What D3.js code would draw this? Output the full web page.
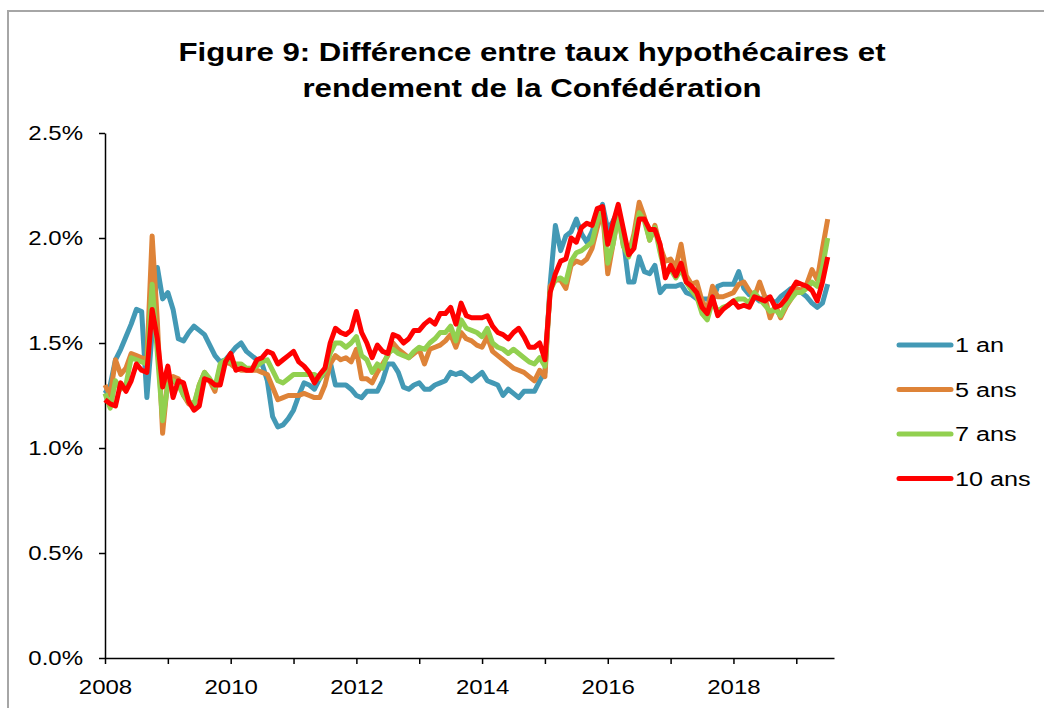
<!DOCTYPE html>
<html><head><meta charset="utf-8">
<script src="https://cdn.jsdelivr.net/npm/d3@7"></script>
<style>
body{margin:0;background:#fff}
svg{display:block}
text{font-family:"Liberation Sans",Arial,sans-serif;fill:#000}
</style>
</head><body>
<svg id="chart" width="1044" height="708"></svg>
<script>
// ---------- data ----------
const titleLines = ["Figure 9: Différence entre taux hypothécaires et", "rendement de la Confédération"];
const seriesNames = ["1 an", "5 ans", "7 ans", "10 ans"];
const seriesColors = ["#4399B5", "#DE8338", "#92D050", "#FF0000"];
const yTickValues = [0, 0.5, 1.0, 1.5, 2.0, 2.5];
const xTickYears = [2008, 2009, 2010, 2011, 2012, 2013, 2014, 2015, 2016, 2017, 2018, 2019];
const xLabelYears = [2008, 2010, 2012, 2014, 2016, 2018];
const firstYear = 2008; // monthly data, January 2008 to July 2019

const oneYear = [1.26,1.30,1.42,1.47,1.53,1.59,1.66,1.65,1.24,1.55,1.86,1.71,
1.74,1.66,1.52,1.51,1.55,1.58,1.56,1.54,1.49,1.44,1.41,1.42,
1.45,1.48,1.50,1.46,1.44,1.42,1.40,1.32,1.15,1.10,1.11,1.14,
1.18,1.25,1.31,1.30,1.28,1.33,1.36,1.41,1.30,1.30,1.30,1.28,
1.25,1.24,1.27,1.27,1.27,1.32,1.40,1.40,1.36,1.29,1.28,1.30,
1.31,1.28,1.28,1.30,1.31,1.32,1.36,1.35,1.36,1.34,1.32,1.34,
1.36,1.32,1.31,1.30,1.25,1.28,1.26,1.24,1.27,1.27,1.27,1.32,
1.36,1.78,2.06,1.94,2.01,2.03,2.09,2.02,1.98,2.03,2.10,2.16,
2.04,2.08,2.13,1.99,1.79,1.79,1.91,1.84,1.83,1.87,1.74,1.77,
1.77,1.77,1.78,1.74,1.73,1.71,1.71,1.71,1.70,1.77,1.78,1.78,
1.78,1.84,1.76,1.73,1.72,1.70,1.72,1.71,1.69,1.72,1.74,1.76,
1.75,1.74,1.72,1.69,1.67,1.69,1.78];

const fiveYears = [1.30,1.25,1.42,1.35,1.38,1.45,1.44,1.43,1.42,2.01,1.60,1.07,
1.33,1.34,1.33,1.25,1.21,1.20,1.30,1.36,1.32,1.27,1.39,1.41,
1.40,1.38,1.37,1.37,1.37,1.37,1.36,1.35,1.29,1.23,1.24,1.25,
1.25,1.25,1.26,1.25,1.24,1.24,1.30,1.40,1.44,1.42,1.43,1.41,
1.47,1.33,1.33,1.31,1.36,1.40,1.44,1.50,1.47,1.45,1.43,1.45,
1.47,1.40,1.47,1.48,1.49,1.51,1.54,1.48,1.55,1.52,1.51,1.49,
1.48,1.53,1.46,1.44,1.42,1.40,1.38,1.37,1.36,1.34,1.32,1.37,
1.34,1.77,1.80,1.80,1.76,1.87,1.89,1.88,1.90,1.95,2.05,2.13,
1.83,1.97,2.11,1.96,1.92,2.02,2.17,2.10,1.99,2.06,1.96,1.89,
1.90,1.86,1.97,1.82,1.78,1.79,1.70,1.66,1.77,1.72,1.72,1.73,
1.74,1.78,1.79,1.75,1.72,1.79,1.72,1.62,1.68,1.62,1.67,1.71,
1.76,1.75,1.78,1.85,1.80,1.95,2.09];

const sevenYears = [1.26,1.19,1.32,1.28,1.30,1.43,1.42,1.41,1.40,1.78,1.45,1.13,
1.30,1.32,1.30,1.25,1.22,1.21,1.30,1.36,1.33,1.29,1.40,1.42,
1.41,1.40,1.40,1.38,1.38,1.39,1.41,1.42,1.37,1.32,1.31,1.33,
1.35,1.35,1.35,1.35,1.35,1.33,1.37,1.45,1.50,1.50,1.48,1.50,
1.53,1.44,1.42,1.36,1.40,1.38,1.45,1.47,1.45,1.44,1.43,1.46,
1.48,1.47,1.50,1.52,1.55,1.55,1.58,1.51,1.61,1.57,1.56,1.55,
1.53,1.57,1.50,1.48,1.47,1.45,1.47,1.45,1.43,1.41,1.40,1.43,
1.39,1.75,1.80,1.81,1.79,1.89,1.93,1.94,1.96,1.98,2.08,2.14,
1.88,1.97,2.11,1.96,1.91,2.00,2.12,2.08,1.99,2.05,1.93,1.83,
1.85,1.81,1.85,1.79,1.75,1.72,1.64,1.61,1.70,1.65,1.67,1.68,
1.70,1.71,1.71,1.69,1.74,1.71,1.68,1.65,1.66,1.63,1.68,1.71,
1.74,1.74,1.76,1.79,1.77,1.86,2.00];

const tenYears = [1.23,1.21,1.20,1.31,1.27,1.32,1.40,1.37,1.36,1.66,1.52,1.29,
1.39,1.24,1.32,1.31,1.22,1.18,1.20,1.33,1.32,1.30,1.30,1.41,
1.45,1.37,1.38,1.37,1.37,1.42,1.43,1.46,1.45,1.40,1.42,1.44,
1.46,1.41,1.39,1.36,1.31,1.35,1.38,1.50,1.57,1.55,1.54,1.56,
1.65,1.55,1.50,1.43,1.49,1.46,1.45,1.54,1.53,1.50,1.52,1.56,
1.56,1.59,1.61,1.59,1.64,1.64,1.67,1.59,1.69,1.63,1.62,1.62,
1.62,1.63,1.58,1.55,1.54,1.52,1.55,1.57,1.53,1.48,1.48,1.50,
1.42,1.74,1.83,1.89,1.90,2.00,1.98,2.05,2.07,2.06,2.14,2.15,
1.97,2.07,2.16,2.04,1.92,1.95,2.09,2.09,2.04,2.04,1.97,1.81,
1.87,1.82,1.88,1.79,1.77,1.74,1.67,1.64,1.72,1.63,1.66,1.68,
1.70,1.67,1.68,1.67,1.72,1.71,1.70,1.72,1.67,1.68,1.71,1.75,
1.79,1.78,1.77,1.75,1.70,1.79,1.91];

const allSeries = [oneYear, fiveYears, sevenYears, tenYears];

// ---------- drawing ----------
const svg = d3.select("#chart");
const SX = 1.2; // horizontal stretch of the original text
const plot = {left: 105, right: 834, top: 133, bottom: 658};

// frame
svg.append("rect").attr("x", 8).attr("y", 11).attr("width", 1060).attr("height", 720)
  .attr("fill", "none").attr("stroke", "#a6a6a6").attr("stroke-width", 2);

// title
titleLines.forEach((t, i) => {
  svg.append("text").attr("transform", `translate(532,${61 + i * 36}) scale(${SX},1)`)
    .attr("text-anchor", "middle").attr("font-size", 26).attr("font-weight", "bold").text(t);
});

const x = d3.scaleLinear().domain([2008, 2019.6]).range([plot.left, plot.right]);
const y = d3.scaleLinear().domain([0, 2.5]).range([plot.bottom, plot.top]);

// y axis
const yAxis = svg.append("g").attr("transform", `translate(${plot.left},0)`)
  .call(d3.axisLeft(y).tickValues(yTickValues).tickSize(6).tickSizeOuter(0)
    .tickFormat(d => d.toFixed(1) + "%"));
yAxis.selectAll("path, line").attr("stroke", "#000").attr("stroke-width", 1.5);
yAxis.selectAll("text").attr("x", 0).attr("font-size", 20)
  .attr("transform", `translate(-22,0) scale(${SX},1)`).attr("fill", "#000");

// x axis
const xAxis = svg.append("g").attr("transform", `translate(0,${plot.bottom})`)
  .call(d3.axisBottom(x).tickValues(xTickYears).tickSize(6).tickSizeOuter(0)
    .tickFormat(d => xLabelYears.includes(d) ? String(d) : ""));
xAxis.selectAll("path, line").attr("stroke", "#000").attr("stroke-width", 1.5);
xAxis.selectAll("text").attr("y", 0).attr("font-size", 20)
  .attr("transform", `translate(0,22) scale(${SX},1)`).attr("fill", "#000");

// lines
const line = d3.line()
  .x((d, i) => x(firstYear + i / 12))
  .y(d => y(d));
allSeries.forEach((s, k) => {
  svg.append("path").datum(s).attr("d", line)
    .attr("fill", "none").attr("stroke", seriesColors[k]).attr("stroke-width", 5)
    .attr("stroke-linejoin", "round");
});

// legend
seriesNames.forEach((n, k) => {
  const ly = 345 + k * 44.5;
  svg.append("line").attr("x1", 899).attr("x2", 951).attr("y1", ly).attr("y2", ly)
    .attr("stroke", seriesColors[k]).attr("stroke-width", 5).attr("stroke-linecap", "round");
  svg.append("text").attr("transform", `translate(955,${ly}) scale(${SX},1)`)
    .attr("dy", "0.35em").attr("font-size", 21).text(n);
});
</script>
</body></html>
